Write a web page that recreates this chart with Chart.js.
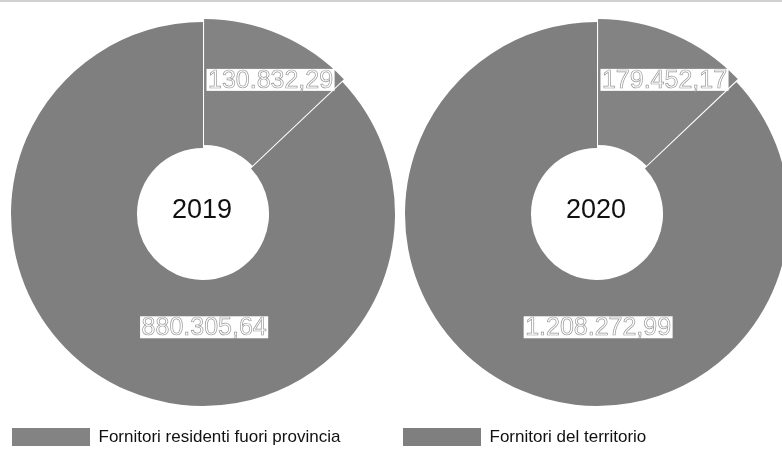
<!DOCTYPE html>
<html>
<head>
<meta charset="utf-8">
<script src="https://cdn.jsdelivr.net/npm/chart.js@4"></script>
<style>
  html, body { margin: 0; padding: 0; background: #fff; }
  body { width: 782px; height: 469px; position: relative; overflow: hidden; }
  #topline { position: absolute; left: 0; top: 0; width: 782px; height: 2px; background: #d0d0d0; }
  .box { position: absolute; top: 0; height: 469px; }
</style>
</head>
<body>
<div id="topline"></div>
<div class="box" style="left:0;width:406px"><canvas id="chart-2019"></canvas></div>
<div class="box" style="left:391px;width:412px"><canvas id="chart-2020"></canvas></div>
<script>
const years = ["2019", "2020"];
const categories = ["Fornitori residenti fuori provincia", "Fornitori del territorio"];
const fuoriProvincia = [130832.29, 179452.17];
const delTerritorio = [880305.64, 1208272.99];

function fmt(v) {
  const parts = v.toFixed(2).split(".");
  return parts[0].replace(/\B(?=(\d{3})+(?!\d))/g, ".") + "," + parts[1];
}

// draws the boxed value labels and the year in the middle
const pieText = {
  id: "pieText",
  afterDatasetsDraw(chart) {
    const ctx = chart.ctx;
    const meta = chart.getDatasetMeta(0);
    const values = chart.data.datasets[0].data;
    ctx.save();
    ctx.textAlign = "center";
    ctx.textBaseline = "middle";
    meta.data.forEach((arc, i) => {
      const p = arc.getProps(["x", "y", "startAngle", "endAngle", "outerRadius"], true);
      const span = p.endAngle - p.startAngle;
      const off = arc.options.offset || 0;
      let ang, dist;
      if (span < Math.PI) {
        ang = (p.startAngle + p.endAngle) / 2 + 0.06;
        dist = p.outerRadius * 0.73 + off;
      } else {
        ang = Math.PI / 2 - 0.01;
        dist = p.outerRadius * 0.59;
      }
      const x = p.x + Math.cos(ang) * dist;
      const y = p.y + Math.sin(ang) * dist;
      const txt = fmt(values[i]);
      ctx.font = "25px 'Liberation Sans', Arial, sans-serif";
      const w = ctx.measureText(txt).width + 3;
      ctx.fillStyle = "#ffffff";
      ctx.fillRect(x - w / 2, y - 11, w, 22);
      ctx.strokeStyle = "#9a9a9a";
      ctx.lineWidth = 0.7;
      ctx.strokeText(txt, x, y + 1);
    });
    const c = meta.data[0];
    ctx.fillStyle = "#111111";
    ctx.font = "27px 'Liberation Sans', Arial, sans-serif";
    ctx.fillText(chart.options.plugins.title.text, c.x - 1, c.y - 3);
    ctx.restore();
  }
};

function makeChart(id, idx) {
  return new Chart(document.getElementById(id), {
    type: "doughnut",
    data: {
      labels: categories,
      datasets: [{
        data: [fuoriProvincia[idx], delTerritorio[idx]],
        backgroundColor: ["#838383", "#7f7f7f"],
        borderColor: "#ffffff",
        borderWidth: 0,
        offset: [10, 0]
      }]
    },
    options: {
      responsive: true,
      maintainAspectRatio: false,
      animation: false,
      events: [],
      radius: 192,
      cutout: "34.4%",
      layout: { padding: { left: 12, right: 12, top: 0, bottom: 13 } },
      plugins: {
        title: { display: false, text: years[idx] },
        tooltip: { enabled: false },
        legend: {
          display: true,
          position: "bottom",
          align: "start",
          labels: {
            boxWidth: 78,
            boxHeight: 18,
            padding: 0,
            color: "#111111",
            font: { family: "'Liberation Sans', Arial, sans-serif", size: 17 },
            filter: (item) => item.index === idx
          }
        }
      }
    },
    plugins: [pieText]
  });
}

makeChart("chart-2019", 0);
makeChart("chart-2020", 1);
</script>
</body>
</html>
